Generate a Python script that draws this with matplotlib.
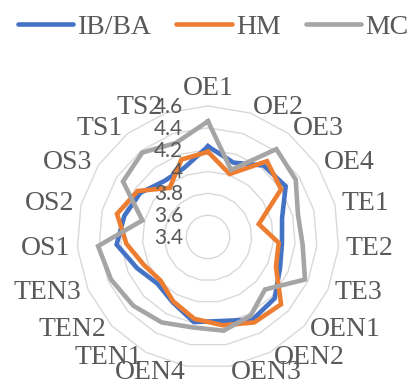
import numpy as np
import matplotlib
matplotlib.use("Agg")
import matplotlib.pyplot as plt
from matplotlib.lines import Line2D

# --- data ---
categories = ["OE1", "OE2", "OE3", "OE4", "TE1", "TE2", "TE3", "OEN1", "OEN2",
              "OEN3", "OEN4", "TEN1", "TEN2", "TEN3", "OS1", "OS2", "OS3", "TS1", "TS2"]
ib_ba = [4.23, 4.12, 4.23, 4.25, 4.10, 4.08, 4.12, 4.23, 4.26, 4.18,
         4.19, 4.08, 4.03, 4.11, 4.24, 4.19, 4.14, 4.05, 4.07]
hm = [4.18, 4.01, 4.28, 4.20, 3.88, 4.05, 4.08, 4.31, 4.29, 4.22,
      4.16, 4.07, 3.99, 4.04, 4.15, 4.26, 4.17, 3.97, 4.15]
mc = [4.46, 4.05, 4.42, 4.36, 4.25, 4.27, 4.37, 4.11, 4.22, 4.27,
      4.24, 4.29, 4.33, 4.37, 4.41, 4.02, 4.33, 4.38, 4.31]
series_names = ["IB/BA", "HM", "MC"]
ring_values = [3.6, 3.8, 4.0, 4.2, 4.4, 4.6]
radial_labels = ["3.4", "3.6", "3.8", "4", "4.2", "4.4", "4.6"]
r_min, r_max = 3.4, 4.6

colors = ["#4472C4", "#ED7D31", "#A5A5A5"]
text_color = "#595959"
serif = ["Liberation Serif", "DejaVu Serif"]

n = len(categories)
angles = np.arange(n) * 2 * np.pi / n
closed = np.append(angles, angles[0])

fig = plt.figure(figsize=(4.10, 3.85), dpi=100)
ax = fig.add_axes([0.1878, 0.0442, 0.639, 0.6805], projection="polar")
ax.set_theta_zero_location("N")
ax.set_theta_direction(-1)
ax.set_rlim(r_min, r_max)
ax.grid(False)
ax.set_xticks([])
ax.set_yticks([])
ax.spines["polar"].set_visible(False)
ax.patch.set_alpha(0)

# polygon gridlines, Excel style
for rv in ring_values:
    ax.plot(closed, [rv] * (n + 1), color="#D9D9D9", lw=1.0, zorder=1, clip_on=False)

for vals, col in zip([ib_ba, hm, mc], colors):
    ax.plot(closed, vals + vals[:1], color=col, lw=3.3, solid_joinstyle="miter",
            zorder=3, clip_on=False)

# radial value labels along the vertical axis
for i, lab in enumerate(radial_labels):
    ax.annotate(lab, xy=(0, r_min + 0.2 * i), xytext=(-25, -1), textcoords="offset pixels",
                ha="right", va="center", fontsize=15, family="Lato", color=text_color,
                annotation_clip=False, zorder=4)

# category labels outside the outer ring
for ang, lab in zip(angles, categories):
    s, c = np.sin(ang), np.cos(ang)
    if abs(s) < 0.01:
        ha, va, off = "center", "bottom", (0, 5)
    else:
        ha = "left" if s > 0 else "right"
        va, off = "center", (7 * s, 6 * c)
    ax.annotate(lab, xy=(ang, r_max), xytext=off, textcoords="offset pixels",
                ha=ha, va=va, fontsize=20, family=serif, color=text_color,
                annotation_clip=False)

handles = [Line2D([], [], color=col, lw=3.3, solid_capstyle="round") for col in colors]
leg = fig.legend(handles, series_names, loc="center", bbox_to_anchor=(0.52, 1 - 27 / 385),
                 ncol=3, frameon=False, handlelength=2.0, handletextpad=0.15,
                 columnspacing=0.9, prop={"family": serif, "size": 20})
for t in leg.get_texts():
    t.set_color(text_color)

fig.savefig("out.png", dpi=100)
